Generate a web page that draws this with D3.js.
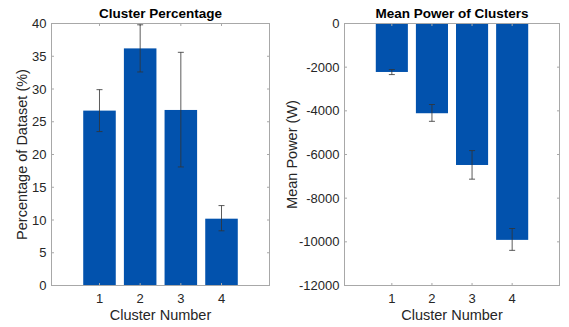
<!DOCTYPE html>
<html>
<head>
<meta charset="utf-8">
<script src="https://cdn.jsdelivr.net/npm/d3@7"></script>
<style>
  body { margin: 0; background: #fff; }
  svg { display: block; font-family: "Liberation Sans", Arial, sans-serif; }
</style>
</head>
<body>
<svg id="chart" width="569" height="327"></svg>
<script>
// values
const clusters = [1, 2, 3, 4];
const pctMean = [26.7, 36.2, 26.8, 10.2];
const pctLow = [23.5, 32.6, 18.1, 8.35];
const pctHigh = [29.9, 39.8, 35.6, 12.2];
const powMean = [-2220, -4110, -6480, -9910];
const powLow = [-2340, -4480, -7130, -10390];
const powHigh = [-2110, -3710, -5820, -9390];
const pctTicks = [0, 5, 10, 15, 20, 25, 30, 35, 40];
const powTicks = [0, -2000, -4000, -6000, -8000, -10000, -12000];

const svg = d3.select("#chart");
const barColor = "#0252ad", boxColor = "#a8a8a8", textColor = "#262626";

function panel(opt) {
  const { left, right, top, bottom } = opt;
  const x = d3.scaleLinear().domain([-0.18, 5.18]).range([left, right]);
  const y = d3.scaleLinear().domain(opt.yDomain).range([bottom, top]);
  const g = svg.append("g");
  const data = clusters.map((c, i) => ({ c, m: opt.mean[i], lo: opt.low[i], hi: opt.high[i] }));

  // bars (grow from zero)
  g.selectAll(".bar").data(data).enter().append("rect")
    .attr("x", d => x(d.c - 0.4)).attr("width", x(0.8) - x(0))
    .attr("y", d => Math.min(y(0), y(d.m))).attr("height", d => Math.abs(y(d.m) - y(0)))
    .attr("fill", barColor);

  // box
  g.append("rect").attr("x", left).attr("y", top).attr("width", right - left).attr("height", bottom - top)
    .attr("fill", "none").attr("stroke", boxColor).attr("stroke-width", 1);

  // ticks inside on all sides
  const tl = 2.5;
  opt.yTicks.forEach(t => {
    g.append("line").attr("x1", left).attr("x2", left + tl).attr("y1", y(t)).attr("y2", y(t)).attr("stroke", boxColor);
    g.append("line").attr("x1", right).attr("x2", right - tl).attr("y1", y(t)).attr("y2", y(t)).attr("stroke", boxColor);
    g.append("text").attr("x", left - 5).attr("y", y(t)).attr("dy", "0.35em").attr("text-anchor", "end")
      .attr("font-size", 13).attr("fill", textColor).text(t);
  });
  clusters.forEach(c => {
    g.append("line").attr("x1", x(c)).attr("x2", x(c)).attr("y1", bottom).attr("y2", bottom - tl).attr("stroke", boxColor);
    g.append("line").attr("x1", x(c)).attr("x2", x(c)).attr("y1", top).attr("y2", top + tl).attr("stroke", boxColor);
    g.append("text").attr("x", x(c)).attr("y", bottom + 17).attr("text-anchor", "middle")
      .attr("font-size", 13).attr("fill", textColor).text(c);
  });

  // error bars
  const cap = 3;
  const eb = g.selectAll(".err").data(data).enter().append("g").attr("stroke", "#333").attr("stroke-opacity", 0.8).attr("stroke-width", 1);
  eb.append("line").attr("x1", d => x(d.c)).attr("x2", d => x(d.c)).attr("y1", d => y(d.lo)).attr("y2", d => y(Math.min(d.hi, opt.yDomain[1])));
  eb.append("line").attr("x1", d => x(d.c) - cap).attr("x2", d => x(d.c) + cap).attr("y1", d => y(d.lo)).attr("y2", d => y(d.lo));
  eb.filter(d => d.hi < opt.yDomain[1]).append("line").attr("x1", d => x(d.c) - cap).attr("x2", d => x(d.c) + cap).attr("y1", d => y(d.hi)).attr("y2", d => y(d.hi));

  // titles
  const cx = (left + right) / 2;
  g.append("text").attr("x", cx).attr("y", 18).attr("text-anchor", "middle").attr("font-size", 13.5)
    .attr("font-weight", "bold").attr("fill", "#000").text(opt.title);
  g.append("text").attr("x", cx).attr("y", 320).attr("text-anchor", "middle").attr("font-size", 14.5)
    .attr("fill", textColor).text("Cluster Number");
  g.append("text").attr("transform", `translate(${opt.ylabX},${(top + bottom) / 2}) rotate(-90)`)
    .attr("text-anchor", "middle").attr("font-size", 14.5).attr("fill", textColor).text(opt.ylabel);
}

panel({ left: 51.5, right: 269.5, top: 23.5, bottom: 285.5, yDomain: [0, 40], yTicks: pctTicks,
  mean: pctMean, low: pctLow, high: pctHigh, title: "Cluster Percentage",
  ylabel: "Percentage of Dataset (%)", ylabX: 27 });
panel({ left: 344.5, right: 559.5, top: 23.5, bottom: 285.5, yDomain: [-12000, 0], yTicks: powTicks,
  mean: powMean, low: powLow, high: powHigh, title: "Mean Power of Clusters",
  ylabel: "Mean Power (W)", ylabX: 297 });
</script>
</body>
</html>
